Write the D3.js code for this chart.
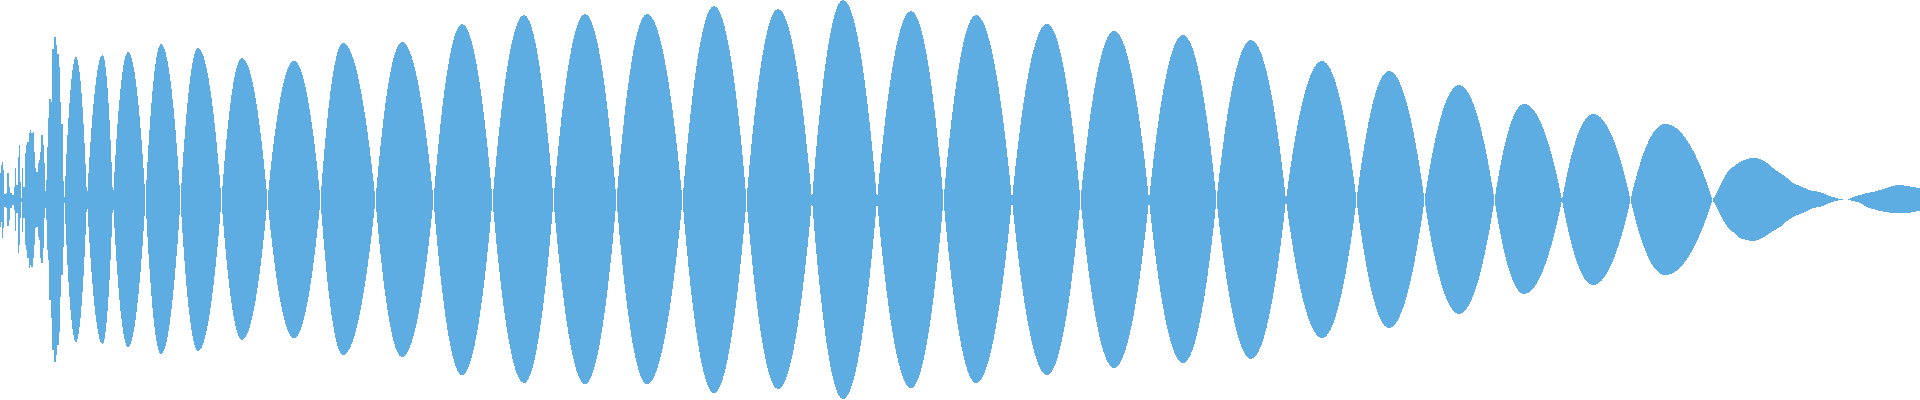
<!DOCTYPE html>
<html>
<head>
<meta charset="utf-8">
<script src="https://cdn.jsdelivr.net/npm/d3@7.9.0/dist/d3.min.js"></script>
<style>
  html, body { margin: 0; padding: 0; background: #fff; overflow: hidden; }
</style>
</head>
<body>
<div id="wave"></div>
<script>
// sample columns 0..1920, amplitude -1..1

// noisy attack at the start (x, upper amp, lower amp)
const headX = [0, 1.5, 2.5, 3.5, 5, 6.7, 8.2, 9.5, 11.2, 13, 14.2, 15.5, 17, 18.5, 19.5, 20.7, 21.7, 22.7, 24.2, 25.5,
  26.7, 28, 29.3, 30.7, 32, 33.3, 34.5, 35.5, 36.8, 38.3, 39.5, 40.7, 42, 43.2, 44.2, 45.2, 46.2, 47.5, 48.8, 50,
  51.5, 52.7, 54.7, 56.7, 58.2, 59.5, 60.7, 62, 63, 64, 64.8];
const headTop = [.135, .175, .19, .15, .03, .035, .135, .065, .035, .025, .065, .16, .075, .215, .275, .09, .01, .16, .065, .235,
  .275, .29, .335, .35, .335, .34, .24, .16, .14, .185, .20, .24, .325, .275, .185, .045, .10, .265, .41, .505,
  .49, .755, .815, .775, .73, .665, .49, .38, .095, .075, .015];
const headBottom = [.135, .11, .19, .14, .035, .04, .13, .10, .04, .025, .05, .155, .065, .265, .225, .09, .01, .16, .09, .225,
  .25, .29, .34, .325, .335, .29, .225, .14, .135, .185, .20, .29, .315, .24, .09, .04, .10, .25, .30, .50,
  .59, .75, .81, .775, .725, .66, .485, .375, .235, .075, .015];

// main lobes: zero crossings, peak positions and peak amplitudes
const crossings = [64.5, 87, 113, 145.5, 180.5, 221.5, 267.5, 320.5, 375.5, 433.5, 492.5, 553.5, 616.5, 682.5,
  746.5, 812, 877, 943.5, 1012, 1080.5, 1149, 1216.5, 1286, 1356.5, 1424.5, 1494.5, 1562, 1630.5, 1712.5];
const peakX = [76, 102.5, 128, 161, 198, 242, 294, 343, 402, 462, 524, 585, 647, 714,
  778, 843, 911, 976, 1047, 1114, 1183, 1251, 1322, 1389, 1459, 1524, 1593, 1665];
const peakTop = [.715, .725, .74, .78, .76, .71, .695, .785, .79, .88, .925, .93, .93, .97,
  .955, 1.0, .945, .925, .88, .845, .825, .80, .695, .645, .575, .48, .43, .38];
const peakBottom = [.71, .72, .735, .77, .755, .70, .69, .775, .785, .875, .915, .92, .92, .965,
  .945, .995, .94, .915, .875, .84, .815, .795, .69, .64, .57, .47, .425, .375];

// decaying tail
const tailX = [1712.5, 1717, 1722, 1727, 1733, 1740, 1747, 1753, 1760, 1767, 1773, 1780, 1787, 1793, 1800, 1807,
  1813, 1820, 1827, 1833, 1840, 1847, 1853, 1860, 1867, 1873, 1880, 1887, 1893, 1900, 1907, 1913, 1920];
const tailTop = [0, .04, .09, .135, .165, .19, .205, .21, .205, .185, .16, .135, .11, .085, .07, .055,
  .045, .04, .025, .015, .005, 0, .015, .025, .035, .04, .05, .06, .07, .075, .07, .065, .06];
const tailBottom = [0, .04, .09, .13, .16, .19, .20, .205, .195, .175, .155, .135, .105, .085, .07, .055,
  .04, .035, .02, .01, 0, 0, .005, .015, .035, .045, .055, .06, .065, .065, .065, .06, .055];

const width = 1920;
const height = 400;
const color = '#5dade2';

const svg = d3.select('#wave')
  .append('svg')
  .attr('width', width)
  .attr('height', height);

const x = d3.scaleLinear()
  .domain([0, 1920])
  .range([0, width]);

const y = d3.scaleLinear()
  .domain([-1, 1])
  .range([height, 0]);

const g = svg.append('g')
  .attr('fill', color)
  .attr('shape-rendering', 'crispEdges');

const area = d3.area()
  .x(d => x(d[0]))
  .y0(d => y(-d[2]))
  .y1(d => y(d[1]));

g.append('path')
  .datum(d3.zip(headX, headTop, headBottom))
  .attr('d', area.curve(d3.curveStep));

// each lobe: two half-parabolas above, two below
peakX.forEach((xp, i) => {
  const x0 = crossings[i];
  const x1 = crossings[i + 1];
  const p = d3.path();
  p.moveTo(x(x0), y(0));
  p.quadraticCurveTo(x((x0 + xp) / 2), y(peakTop[i]), x(xp), y(peakTop[i]));
  p.quadraticCurveTo(x((xp + x1) / 2), y(peakTop[i]), x(x1), y(0));
  p.quadraticCurveTo(x((xp + x1) / 2), y(-peakBottom[i]), x(xp), y(-peakBottom[i]));
  p.quadraticCurveTo(x((x0 + xp) / 2), y(-peakBottom[i]), x(x0), y(0));
  p.closePath();
  g.append('path').attr('d', p.toString());
});

g.append('path')
  .datum(d3.zip(tailX, tailTop, tailBottom))
  .attr('d', area.curve(d3.curveMonotoneX));
</script>
</body>
</html>
